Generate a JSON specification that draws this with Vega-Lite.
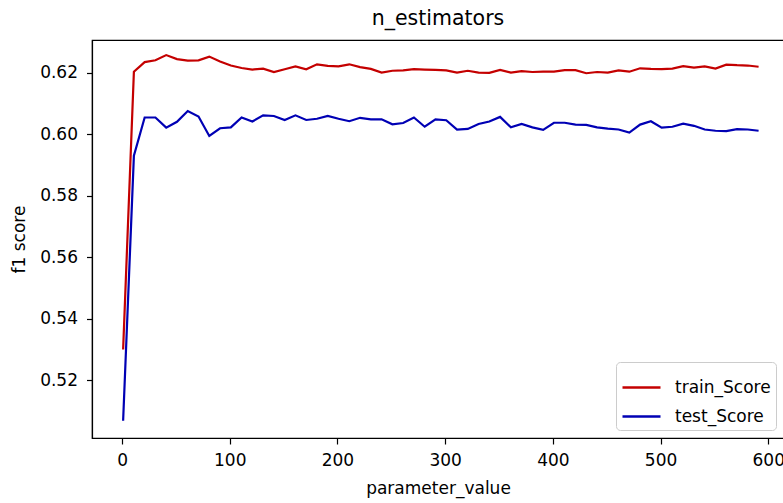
{
  "$schema": "https://vega.github.io/schema/vega-lite/v6.json",
  "autosize": "none",
  "width": 692,
  "height": 398,
  "padding": {"left": 92, "top": 40, "right": 0, "bottom": 65},
  "background": "white",
  "config": {
    "font": "DejaVu Sans",
    "view": {"stroke": "black", "strokeWidth": 1.2},
    "axis": {
      "grid": false,
      "domainColor": "black",
      "domainWidth": 1.2,
      "tickColor": "black",
      "tickSize": 6,
      "tickWidth": 1.2,
      "labelColor": "black",
      "labelFontSize": 17,
      "labelFont": "DejaVu Sans",
      "titleFontSize": 17,
      "titleFontWeight": "normal",
      "titleColor": "black",
      "titleFont": "DejaVu Sans"
    }
  },
  "title": {
    "text": "n_estimators",
    "fontSize": 20.5,
    "fontWeight": "normal",
    "color": "black",
    "font": "DejaVu Sans",
    "offset": 11
  },
  "data": {
    "values": [
      {"x": 1, "series": "train_Score", "f1": 0.530},
      {"x": 11, "series": "train_Score", "f1": 0.6203},
      {"x": 21, "series": "train_Score", "f1": 0.6234},
      {"x": 31, "series": "train_Score", "f1": 0.6240},
      {"x": 41, "series": "train_Score", "f1": 0.6257},
      {"x": 51, "series": "train_Score", "f1": 0.6244},
      {"x": 61, "series": "train_Score", "f1": 0.6239},
      {"x": 71, "series": "train_Score", "f1": 0.6240},
      {"x": 81, "series": "train_Score", "f1": 0.6252},
      {"x": 91, "series": "train_Score", "f1": 0.6236},
      {"x": 101, "series": "train_Score", "f1": 0.6223},
      {"x": 111, "series": "train_Score", "f1": 0.6215},
      {"x": 121, "series": "train_Score", "f1": 0.6210},
      {"x": 131, "series": "train_Score", "f1": 0.6213},
      {"x": 141, "series": "train_Score", "f1": 0.6202},
      {"x": 151, "series": "train_Score", "f1": 0.6211},
      {"x": 161, "series": "train_Score", "f1": 0.6220},
      {"x": 171, "series": "train_Score", "f1": 0.6211},
      {"x": 181, "series": "train_Score", "f1": 0.6227},
      {"x": 191, "series": "train_Score", "f1": 0.6222},
      {"x": 201, "series": "train_Score", "f1": 0.6220},
      {"x": 211, "series": "train_Score", "f1": 0.6227},
      {"x": 221, "series": "train_Score", "f1": 0.6218},
      {"x": 231, "series": "train_Score", "f1": 0.6212},
      {"x": 241, "series": "train_Score", "f1": 0.6200},
      {"x": 251, "series": "train_Score", "f1": 0.6206},
      {"x": 261, "series": "train_Score", "f1": 0.6207},
      {"x": 271, "series": "train_Score", "f1": 0.6211},
      {"x": 281, "series": "train_Score", "f1": 0.6210},
      {"x": 291, "series": "train_Score", "f1": 0.6209},
      {"x": 301, "series": "train_Score", "f1": 0.6207},
      {"x": 311, "series": "train_Score", "f1": 0.6200},
      {"x": 321, "series": "train_Score", "f1": 0.6206},
      {"x": 331, "series": "train_Score", "f1": 0.6200},
      {"x": 341, "series": "train_Score", "f1": 0.6199},
      {"x": 351, "series": "train_Score", "f1": 0.6209},
      {"x": 361, "series": "train_Score", "f1": 0.6200},
      {"x": 371, "series": "train_Score", "f1": 0.6205},
      {"x": 381, "series": "train_Score", "f1": 0.6202},
      {"x": 391, "series": "train_Score", "f1": 0.6203},
      {"x": 401, "series": "train_Score", "f1": 0.6203},
      {"x": 411, "series": "train_Score", "f1": 0.6208},
      {"x": 421, "series": "train_Score", "f1": 0.6208},
      {"x": 431, "series": "train_Score", "f1": 0.6198},
      {"x": 441, "series": "train_Score", "f1": 0.6202},
      {"x": 451, "series": "train_Score", "f1": 0.6200},
      {"x": 461, "series": "train_Score", "f1": 0.6207},
      {"x": 471, "series": "train_Score", "f1": 0.6203},
      {"x": 481, "series": "train_Score", "f1": 0.6214},
      {"x": 491, "series": "train_Score", "f1": 0.6212},
      {"x": 501, "series": "train_Score", "f1": 0.6211},
      {"x": 511, "series": "train_Score", "f1": 0.6213},
      {"x": 521, "series": "train_Score", "f1": 0.6221},
      {"x": 531, "series": "train_Score", "f1": 0.6216},
      {"x": 541, "series": "train_Score", "f1": 0.6220},
      {"x": 551, "series": "train_Score", "f1": 0.6213},
      {"x": 561, "series": "train_Score", "f1": 0.6226},
      {"x": 571, "series": "train_Score", "f1": 0.6224},
      {"x": 581, "series": "train_Score", "f1": 0.6223},
      {"x": 591, "series": "train_Score", "f1": 0.6219},
      {"x": 1, "series": "test_Score", "f1": 0.5068},
      {"x": 11, "series": "test_Score", "f1": 0.5930},
      {"x": 21, "series": "test_Score", "f1": 0.6054},
      {"x": 31, "series": "test_Score", "f1": 0.6054},
      {"x": 41, "series": "test_Score", "f1": 0.6021},
      {"x": 51, "series": "test_Score", "f1": 0.6040},
      {"x": 61, "series": "test_Score", "f1": 0.6075},
      {"x": 71, "series": "test_Score", "f1": 0.6057},
      {"x": 81, "series": "test_Score", "f1": 0.5994},
      {"x": 91, "series": "test_Score", "f1": 0.6019},
      {"x": 101, "series": "test_Score", "f1": 0.6022},
      {"x": 111, "series": "test_Score", "f1": 0.6054},
      {"x": 121, "series": "test_Score", "f1": 0.6041},
      {"x": 131, "series": "test_Score", "f1": 0.6061},
      {"x": 141, "series": "test_Score", "f1": 0.6059},
      {"x": 151, "series": "test_Score", "f1": 0.6046},
      {"x": 161, "series": "test_Score", "f1": 0.6061},
      {"x": 171, "series": "test_Score", "f1": 0.6046},
      {"x": 181, "series": "test_Score", "f1": 0.6050},
      {"x": 191, "series": "test_Score", "f1": 0.6059},
      {"x": 201, "series": "test_Score", "f1": 0.6050},
      {"x": 211, "series": "test_Score", "f1": 0.6042},
      {"x": 221, "series": "test_Score", "f1": 0.6053},
      {"x": 231, "series": "test_Score", "f1": 0.6048},
      {"x": 241, "series": "test_Score", "f1": 0.6048},
      {"x": 251, "series": "test_Score", "f1": 0.6032},
      {"x": 261, "series": "test_Score", "f1": 0.6036},
      {"x": 271, "series": "test_Score", "f1": 0.6054},
      {"x": 281, "series": "test_Score", "f1": 0.6024},
      {"x": 291, "series": "test_Score", "f1": 0.6048},
      {"x": 301, "series": "test_Score", "f1": 0.6045},
      {"x": 311, "series": "test_Score", "f1": 0.6015},
      {"x": 321, "series": "test_Score", "f1": 0.6017},
      {"x": 331, "series": "test_Score", "f1": 0.6033},
      {"x": 341, "series": "test_Score", "f1": 0.6041},
      {"x": 351, "series": "test_Score", "f1": 0.6056},
      {"x": 361, "series": "test_Score", "f1": 0.6022},
      {"x": 371, "series": "test_Score", "f1": 0.6033},
      {"x": 381, "series": "test_Score", "f1": 0.6022},
      {"x": 391, "series": "test_Score", "f1": 0.6014},
      {"x": 401, "series": "test_Score", "f1": 0.6037},
      {"x": 411, "series": "test_Score", "f1": 0.6037},
      {"x": 421, "series": "test_Score", "f1": 0.6031},
      {"x": 431, "series": "test_Score", "f1": 0.6030},
      {"x": 441, "series": "test_Score", "f1": 0.6022},
      {"x": 451, "series": "test_Score", "f1": 0.6018},
      {"x": 461, "series": "test_Score", "f1": 0.6015},
      {"x": 471, "series": "test_Score", "f1": 0.6005},
      {"x": 481, "series": "test_Score", "f1": 0.6031},
      {"x": 491, "series": "test_Score", "f1": 0.6042},
      {"x": 501, "series": "test_Score", "f1": 0.6021},
      {"x": 511, "series": "test_Score", "f1": 0.6024},
      {"x": 521, "series": "test_Score", "f1": 0.6034},
      {"x": 531, "series": "test_Score", "f1": 0.6027},
      {"x": 541, "series": "test_Score", "f1": 0.6015},
      {"x": 551, "series": "test_Score", "f1": 0.6011},
      {"x": 561, "series": "test_Score", "f1": 0.6010},
      {"x": 571, "series": "test_Score", "f1": 0.6016},
      {"x": 581, "series": "test_Score", "f1": 0.6015},
      {"x": 591, "series": "test_Score", "f1": 0.6011}
    ]
  },
  "mark": {"type": "line", "strokeWidth": 2.2, "clip": true},
  "encoding": {
    "x": {
      "field": "x",
      "type": "quantitative",
      "scale": {"domain": [-27.9, 614.6], "nice": false, "zero": false},
      "axis": {"values": [0, 100, 200, 300, 400, 500, 600], "title": "parameter_value", "titlePadding": 12, "labelPadding": 8}
    },
    "y": {
      "field": "f1",
      "type": "quantitative",
      "scale": {"domain": [0.5012, 0.6306], "nice": false, "zero": false},
      "axis": {"values": [0.52, 0.54, 0.56, 0.58, 0.6, 0.62], "format": ".2f", "title": "f1 score", "titlePadding": 11, "labelPadding": 9, "tickSize": 5.5}
    },
    "color": {
      "field": "series",
      "type": "nominal",
      "scale": {"domain": ["train_Score", "test_Score"], "range": ["#c40000", "#0000b4"]},
      "legend": {
        "title": null,
        "orient": "none",
        "legendX": 524,
        "legendY": 322,
        "symbolType": "stroke",
        "symbolSize": 1444,
        "symbolStrokeWidth": 2.4,
        "labelFontSize": 17,
        "labelFont": "DejaVu Sans",
        "labelColor": "black",
        "labelOffset": 13,
        "rowPadding": -11,
        "padding": 5,
        "fillColor": "white",
        "strokeColor": "#cccccc",
        "cornerRadius": 4
      }
    }
  }
}
